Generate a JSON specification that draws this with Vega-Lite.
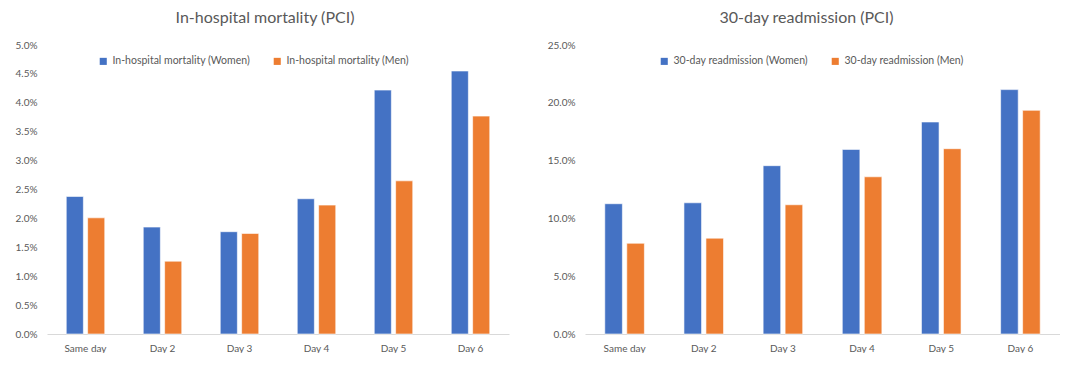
{
  "$schema": "https://vega.github.io/schema/vega-lite/v6.json",
  "padding": {"left": 0, "top": 10, "right": 0, "bottom": 0},
  "background": "white",
  "config": {"view": {"stroke": null}, "font": "Lato", "concat": {"spacing": 29}},
  "datasets": {
    "mortality": [
      {"day": "Same day", "series": "In-hospital mortality (Women)", "value": 0.0238},
      {"day": "Same day", "series": "In-hospital mortality (Men)", "value": 0.0201},
      {"day": "Day 2", "series": "In-hospital mortality (Women)", "value": 0.0185},
      {"day": "Day 2", "series": "In-hospital mortality (Men)", "value": 0.0126},
      {"day": "Day 3", "series": "In-hospital mortality (Women)", "value": 0.0177},
      {"day": "Day 3", "series": "In-hospital mortality (Men)", "value": 0.0174},
      {"day": "Day 4", "series": "In-hospital mortality (Women)", "value": 0.0234},
      {"day": "Day 4", "series": "In-hospital mortality (Men)", "value": 0.0223},
      {"day": "Day 5", "series": "In-hospital mortality (Women)", "value": 0.0422},
      {"day": "Day 5", "series": "In-hospital mortality (Men)", "value": 0.0265},
      {"day": "Day 6", "series": "In-hospital mortality (Women)", "value": 0.0455},
      {"day": "Day 6", "series": "In-hospital mortality (Men)", "value": 0.0377}
    ],
    "readmission": [
      {"day": "Same day", "series": "30-day readmission (Women)", "value": 0.1127},
      {"day": "Same day", "series": "30-day readmission (Men)", "value": 0.0785},
      {"day": "Day 2", "series": "30-day readmission (Women)", "value": 0.1135},
      {"day": "Day 2", "series": "30-day readmission (Men)", "value": 0.0829},
      {"day": "Day 3", "series": "30-day readmission (Women)", "value": 0.1456},
      {"day": "Day 3", "series": "30-day readmission (Men)", "value": 0.1118},
      {"day": "Day 4", "series": "30-day readmission (Women)", "value": 0.1597},
      {"day": "Day 4", "series": "30-day readmission (Men)", "value": 0.136},
      {"day": "Day 5", "series": "30-day readmission (Women)", "value": 0.1834},
      {"day": "Day 5", "series": "30-day readmission (Men)", "value": 0.1603},
      {"day": "Day 6", "series": "30-day readmission (Women)", "value": 0.2114},
      {"day": "Day 6", "series": "30-day readmission (Men)", "value": 0.1935}
    ]
  },
  "hconcat": [
    {
      "width": 462,
      "height": 289,
      "data": {"name": "mortality"},
      "title": {"text": "In-hospital mortality (PCI)", "fontSize": 16, "fontWeight": "normal", "color": "#595959", "dx": -13, "offset": 14},
      "mark": {"type": "bar", "stroke": "#ffffff", "strokeWidth": 0.6},
      "encoding": {
        "x": {"field": "day", "type": "nominal", "sort": ["Same day", "Day 2", "Day 3", "Day 4", "Day 5", "Day 6"],
          "scale": {"paddingInner": 0.5, "paddingOuter": 0.25},
          "axis": {"title": null, "labelAngle": 0, "ticks": false, "domainColor": "#d9d9d9", "labelColor": "#595959", "labelFontSize": 10, "labelPadding": 9}},
        "xOffset": {"field": "series", "type": "nominal", "sort": ["In-hospital mortality (Women)", "In-hospital mortality (Men)"], "scale": {"paddingInner": 0.2}},
        "y": {"field": "value", "type": "quantitative", "scale": {"domain": [0, 0.05], "nice": false},
          "axis": {"title": null, "format": ".1%", "values": [0, 0.005, 0.01, 0.015, 0.02, 0.025, 0.03, 0.035, 0.04, 0.045, 0.05], "grid": false, "domain": false, "ticks": false, "labelColor": "#595959", "labelFontSize": 10, "labelPadding": 10, "minExtent": 47, "maxExtent": 47}},
        "color": {"field": "series", "type": "nominal",
          "scale": {"domain": ["In-hospital mortality (Women)", "In-hospital mortality (Men)"], "range": ["#4472C4", "#ED7D31"]},
          "legend": {"title": null, "orient": "none", "direction": "horizontal", "legendX": 51, "legendY": 11, "symbolType": "square", "symbolSize": 50, "symbolStrokeWidth": 0, "labelFontSize": 10.5, "labelColor": "#595959", "columnPadding": 22}}
      }
    },
    {
      "width": 475,
      "height": 289,
      "data": {"name": "readmission"},
      "title": {"text": "30-day readmission (PCI)", "fontSize": 16, "fontWeight": "normal", "color": "#595959", "dx": -16, "offset": 14},
      "mark": {"type": "bar", "stroke": "#ffffff", "strokeWidth": 0.6},
      "encoding": {
        "x": {"field": "day", "type": "nominal", "sort": ["Same day", "Day 2", "Day 3", "Day 4", "Day 5", "Day 6"],
          "scale": {"paddingInner": 0.5, "paddingOuter": 0.25},
          "axis": {"title": null, "labelAngle": 0, "ticks": false, "domainColor": "#d9d9d9", "labelColor": "#595959", "labelFontSize": 10, "labelPadding": 9}},
        "xOffset": {"field": "series", "type": "nominal", "sort": ["30-day readmission (Women)", "30-day readmission (Men)"], "scale": {"paddingInner": 0.2}},
        "y": {"field": "value", "type": "quantitative", "scale": {"domain": [0, 0.25], "nice": false},
          "axis": {"title": null, "format": ".1%", "values": [0, 0.05, 0.1, 0.15, 0.2, 0.25], "grid": false, "domain": false, "ticks": false, "labelColor": "#595959", "labelFontSize": 10, "labelPadding": 10, "minExtent": 47, "maxExtent": 47}},
        "color": {"field": "series", "type": "nominal",
          "scale": {"domain": ["30-day readmission (Women)", "30-day readmission (Men)"], "range": ["#4472C4", "#ED7D31"]},
          "legend": {"title": null, "orient": "none", "direction": "horizontal", "legendX": 74, "legendY": 11, "symbolType": "square", "symbolSize": 50, "symbolStrokeWidth": 0, "labelFontSize": 10.5, "labelColor": "#595959", "columnPadding": 22}}
      }
    }
  ],
  "resolve": {"scale": {"color": "independent", "y": "independent", "x": "independent", "xOffset": "independent"}, "legend": {"color": "independent"}}
}
